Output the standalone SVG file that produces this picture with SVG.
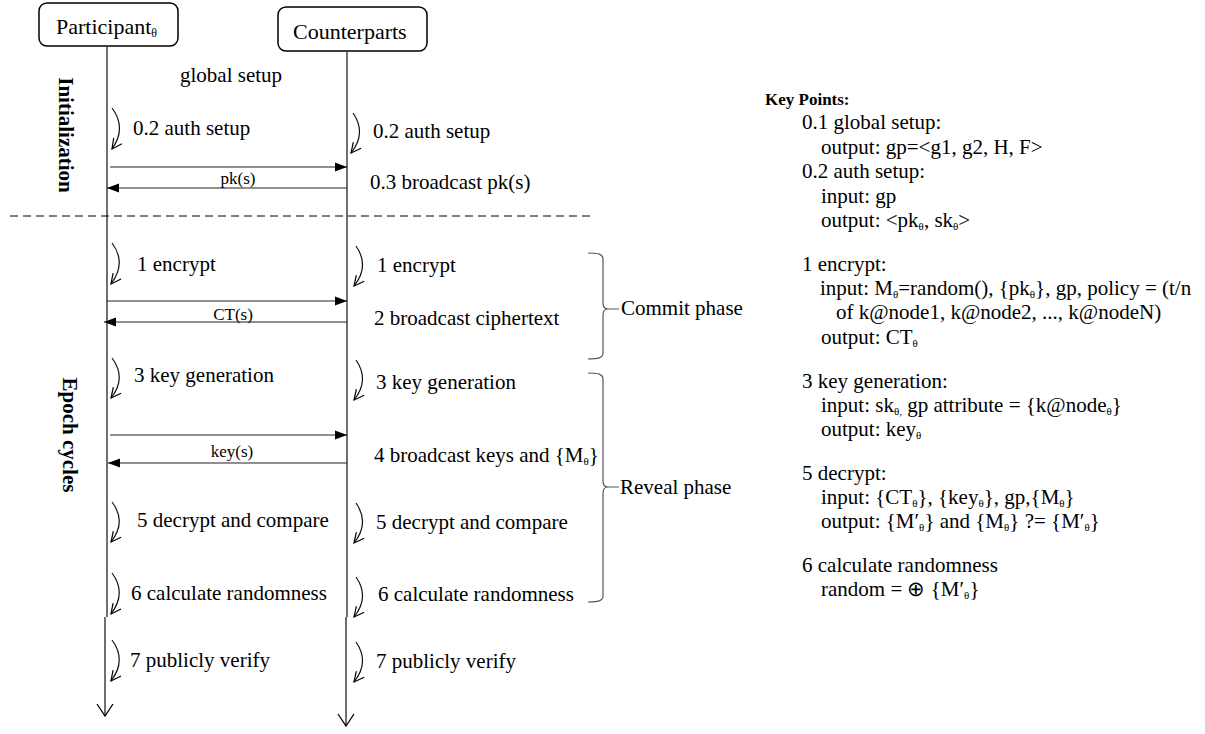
<svg xmlns="http://www.w3.org/2000/svg" width="1205" height="734" viewBox="0 0 1205 734">
<style>
.t{font-family:"Liberation Serif","Times New Roman",serif;font-size:21px;fill:#000}
.lbl{font-size:17px}
.b{font-weight:bold}
.kp{font-size:17px;font-weight:bold}
.s{font-size:11px}
.sb{font-size:12px}
.ln{stroke:#333;stroke-width:1.4;fill:none}
.msg{stroke:#222;stroke-width:1.2;fill:none}
.arc{stroke:#111;stroke-width:1.2;fill:none}
.br{stroke:#555;stroke-width:1.2;fill:none}
.box{fill:#fff;stroke:#000;stroke-width:1.5}
</style>
<defs>
<marker id="fa" viewBox="0 0 12 10" refX="12" refY="5" markerWidth="12" markerHeight="10" markerUnits="userSpaceOnUse" orient="auto"><path d="M0,0.5 L12,5 L0,9.5 z" fill="#000"/></marker>
<marker id="oa" viewBox="0 0 12 12" refX="11" refY="6" markerWidth="12" markerHeight="12" markerUnits="userSpaceOnUse" orient="auto"><path d="M1,1 L11,6 L1,11" fill="none" stroke="#000" stroke-width="1.2"/></marker>
<marker id="oaL" viewBox="0 0 14 18" refX="13" refY="9" markerWidth="14" markerHeight="18" markerUnits="userSpaceOnUse" orient="auto"><path d="M1,1 L13,9 L1,17" fill="none" stroke="#000" stroke-width="1.3"/></marker>
</defs>

<g id="participant">
<rect class="box" x="39" y="3" width="139" height="43" rx="8"/>
<text class="t" x="56" y="34" style="font-size:22px">Participant<tspan class="sb" dy="3">θ</tspan></text>
</g>
<g id="counterparts">
<rect class="box" x="278" y="7" width="149" height="44" rx="8"/>
<text class="t" x="293" y="39" style="font-size:22px">Counterparts</text>
</g>

<g id="lifelines">
<path class="ln" d="M107,46 L107,617"/>
<path class="ln" d="M105,617 L105,716" marker-end="url(#oaL)"/>
<path class="ln" d="M347,51 L347,617"/>
<path class="ln" d="M346,617 L346,726" marker-end="url(#oaL)"/>
</g>

<g id="sections">
<text class="t b" transform="translate(59,135) rotate(90)" text-anchor="middle">Initialization</text>
<text class="t b" transform="translate(63,435) rotate(90)" text-anchor="middle">Epoch cycles</text>
<path d="M10,216 L590,216" stroke="#000" stroke-width="1" stroke-dasharray="8,5"/>
<text class="t" x="180" y="82">global setup</text>
</g>

<g id="connectors">
<path class="msg" d="M110,167 L347,167" marker-end="url(#fa)"/>
<path class="msg" d="M347,188 L107,188" marker-end="url(#fa)"/>
<path class="msg" d="M107,301 L347,301" marker-end="url(#fa)"/>
<path class="msg" d="M347,322 L104,322" marker-end="url(#fa)"/>
<path class="msg" d="M110,435 L347,435" marker-end="url(#fa)"/>
<path class="msg" d="M347,463 L108,463" marker-end="url(#fa)"/>
<text class="t lbl" x="238" y="184" text-anchor="middle">pk(s)</text>
<text class="t lbl" x="233" y="320" text-anchor="middle">CT(s)</text>
<text class="t lbl" x="232" y="457" text-anchor="middle">key(s)</text>
</g>

<g id="self-arcs">
<path class="arc" d="M112,108 Q127,128 112,149" marker-end="url(#oa)"/>
<path class="arc" d="M112,243 Q127,263 111,284" marker-end="url(#oa)"/>
<path class="arc" d="M112,358 Q127,378 111,398" marker-end="url(#oa)"/>
<path class="arc" d="M112,502 Q127,522 111,542" marker-end="url(#oa)"/>
<path class="arc" d="M112,573 Q127,593 111,614" marker-end="url(#oa)"/>
<path class="arc" d="M112,640 Q127,660 111,681" marker-end="url(#oa)"/>
<path class="arc" d="M353,113 Q367,133 351,153" marker-end="url(#oa)"/>
<path class="arc" d="M356,246 Q370,266 354,286" marker-end="url(#oa)"/>
<path class="arc" d="M356,360 Q370,380 354,400" marker-end="url(#oa)"/>
<path class="arc" d="M356,503 Q370,523 354,543" marker-end="url(#oa)"/>
<path class="arc" d="M356,577 Q370,597 354,617" marker-end="url(#oa)"/>
<path class="arc" d="M356,642 Q370,662 354,682" marker-end="url(#oa)"/>
</g>

<g id="participant-steps">
<text class="t" x="133" y="135">0.2 auth setup</text>
<text class="t" x="137" y="271">1 encrypt</text>
<text class="t" x="134" y="382">3 key generation</text>
<text class="t" x="137" y="527">5 decrypt and compare</text>
<text class="t" x="131" y="600">6 calculate randomness</text>
<text class="t" x="130" y="667">7 publicly verify</text>
</g>

<g id="counterpart-steps">
<text class="t" x="373" y="138">0.2 auth setup</text>
<text class="t" x="370" y="189">0.3 broadcast pk(s)</text>
<text class="t" x="377" y="272">1 encrypt</text>
<text class="t" x="374" y="325">2 broadcast ciphertext</text>
<text class="t" x="376" y="389">3 key generation</text>
<text class="t" x="374" y="462">4 broadcast keys and {M<tspan class="s" dy="3">θ</tspan><tspan dy="-3">}</tspan></text>
<text class="t" x="376" y="529">5 decrypt and compare</text>
<text class="t" x="378" y="601">6 calculate randomness</text>
<text class="t" x="376" y="668">7 publicly verify</text>
</g>

<g id="commit-phase">
<path class="br" d="M588,253 C598,253 603,254 603,259 L603,303 C603,307 604,309 608,309 C604,309 603,311 603,315 L603,353 C603,358 598,359 588,359 M607,309 L619,309"/>
<text class="t" x="621" y="315">Commit phase</text>
</g>
<g id="reveal-phase">
<path class="br" d="M588,373 C598,373 603,374 603,379 L603,481 C603,485 604,487 608,487 C604,487 603,489 603,493 L603,596 C603,601 598,602 588,602 M607,487 L619,487"/>
<text class="t" x="620" y="494">Reveal phase</text>
</g>

<g id="key-points">
<text class="t kp" x="765" y="105">Key Points:</text>
<text class="t" x="802" y="129">0.1 global setup:</text>
<text class="t" x="821" y="154">output: gp=&lt;g1, g2, H, F&gt;</text>
<text class="t" x="802" y="178">0.2 auth setup:</text>
<text class="t" x="821" y="203">input: gp</text>
<text class="t" x="821" y="227">output: &lt;pk<tspan class="s" dy="3">θ</tspan><tspan dy="-3">, sk</tspan><tspan class="s" dy="3">θ</tspan><tspan dy="-3">&gt;</tspan></text>
<text class="t" x="802" y="271">1 encrypt:</text>
<text class="t" x="820" y="295">input: M<tspan class="s" dy="3">θ</tspan><tspan dy="-3">=random(), {pk</tspan><tspan class="s" dy="3">θ</tspan><tspan dy="-3">}, gp, policy = (t/n</tspan></text>
<text class="t" x="836" y="319">of k@node1, k@node2, ..., k@nodeN)</text>
<text class="t" x="821" y="344">output: CT<tspan class="s" dy="3">θ</tspan></text>
<text class="t" x="802" y="388">3 key generation:</text>
<text class="t" x="821" y="412">input: sk<tspan class="s" dy="3">θ,</tspan><tspan dy="-3"> gp attribute = {k@node</tspan><tspan class="s" dy="3">θ</tspan><tspan dy="-3">}</tspan></text>
<text class="t" x="821" y="436">output: key<tspan class="s" dy="3">θ</tspan></text>
<text class="t" x="802" y="480">5 decrypt:</text>
<text class="t" x="821" y="504">input: {CT<tspan class="s" dy="3">θ</tspan><tspan dy="-3">}, {key</tspan><tspan class="s" dy="3">θ</tspan><tspan dy="-3">}, gp,{M</tspan><tspan class="s" dy="3">θ</tspan><tspan dy="-3">}</tspan></text>
<text class="t" x="821" y="528">output: {M′<tspan class="s" dy="3">θ</tspan><tspan dy="-3">} and {M</tspan><tspan class="s" dy="3">θ</tspan><tspan dy="-3">} ?= {M′</tspan><tspan class="s" dy="3">θ</tspan><tspan dy="-3">}</tspan></text>
<text class="t" x="802" y="572">6 calculate randomness</text>
<text class="t" x="821" y="596">random = ⊕ {M′<tspan class="s" dy="3">θ</tspan><tspan dy="-3">}</tspan></text>
</g>
</svg>
